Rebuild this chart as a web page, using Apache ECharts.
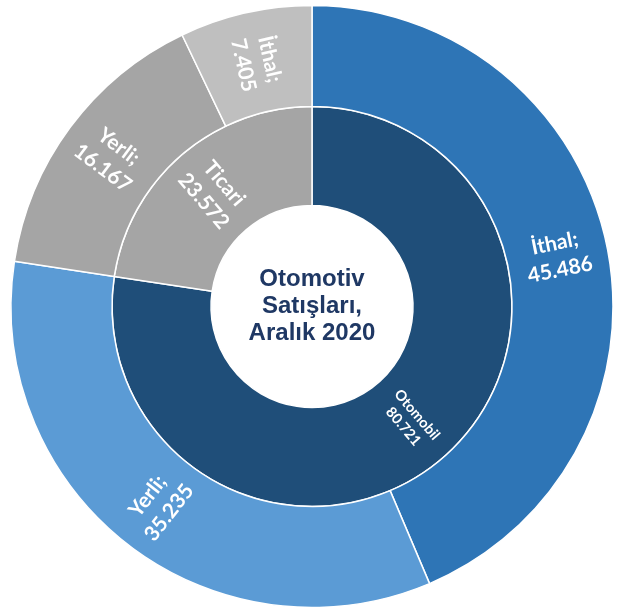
<!DOCTYPE html>
<html>
<head>
<meta charset="utf-8">
<script src="https://cdn.jsdelivr.net/npm/echarts@6/dist/echarts.min.js"></script>
<style>
html,body{margin:0;padding:0;background:#fff;}
#main{width:630px;height:611px;}
</style>
</head>
<body>
<div id="main"></div>
<script>
// Data
const categories = ['Otomobil', 'Ticari'];
const categoryTotals = [80721, 23572];
const subCategories = [['İthal', 'Yerli'], ['Yerli', 'İthal']];
const otomobilValues = [45486, 35235];
const ticariValues = [16167, 7405];
const centerTitle = 'Otomotiv\nSatışları,\nAralık 2020';

const innerColors = ['#1F4E79', '#A5A5A5'];
const outerColors = [['#2E75B6', '#5B9BD5'], ['#A5A5A5', '#BFBFBF']];
const subValues = [otomobilValues, ticariValues];

function fmt(v) {
  return String(v).replace(/\B(?=(\d{3})+(?!\d))/g, '.');
}

const data = categories.map((name, i) => ({
  name: name,
  value: categoryTotals[i],
  itemStyle: { color: innerColors[i] },
  label: i === 0 ? { fontSize: 14.5, lineHeight: 18 } : {},
  children: subCategories[i].map((s, j) => ({
    name: s,
    value: subValues[i][j],
    itemStyle: { color: outerColors[i][j] }
  }))
}));

const chart = echarts.init(document.getElementById('main'));
chart.setOption({
  animation: false,
  series: [{
    type: 'sunburst',
    center: [312, 306.5],
    startAngle: 90,
    sort: null,
    nodeClick: false,
    emphasis: { disabled: true },
    data: data,
    itemStyle: { borderColor: '#ffffff', borderWidth: 1.5 },
    label: {
      rotate: 'radial',
      color: '#ffffff',
      fontFamily: 'Lato',
      fontWeight: 'bold',
      fontSize: 21,
      lineHeight: 27,
      align: 'center'
    },
    levels: [
      {},
      {
        r0: 101, r: 200,
        label: {
          formatter: p => p.name + '\n' + fmt(p.value)
        }
      },
      {
        r0: 200, r: 301,
        label: {
          formatter: p => p.name + ';\n' + fmt(p.value)
        }
      }
    ]
  }],
  graphic: [{
    type: 'text',
    x: 312,
    y: 306,
    style: {
      text: centerTitle,
      fontFamily: 'Liberation Sans, Arial',
      fontWeight: 'bold',
      fontSize: 24,
      lineHeight: 27,
      fill: '#1F3864',
      align: 'center',
      verticalAlign: 'middle'
    }
  }]
});
</script>
</body>
</html>
